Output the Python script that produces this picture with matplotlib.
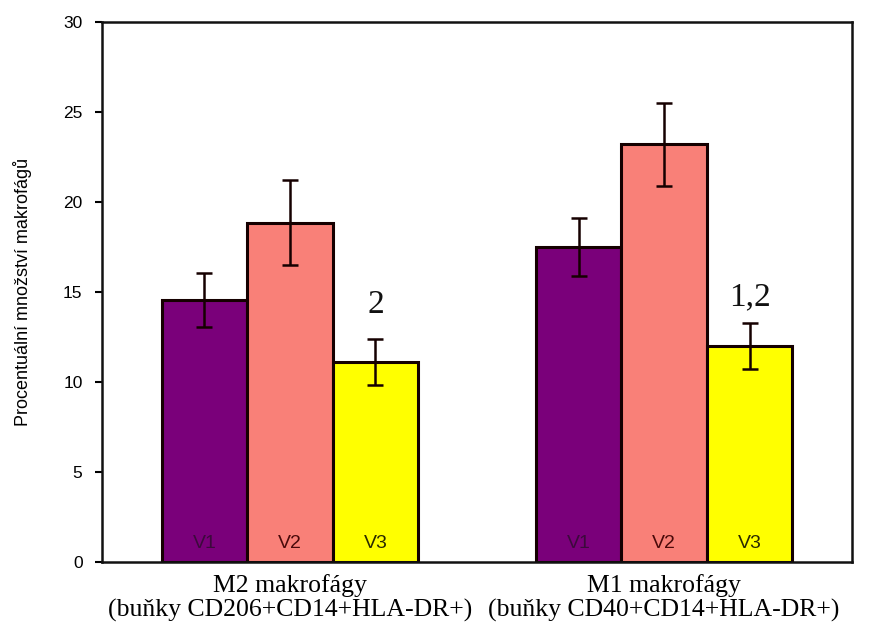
import numpy as np
import matplotlib
matplotlib.use('Agg')
import matplotlib.pyplot as plt

# data
groups = ['M2 makrofágy\n(buňky CD206+CD14+HLA-DR+)',
          'M1 makrofágy\n(buňky CD40+CD14+HLA-DR+)']
variants = ['V1', 'V2', 'V3']
v1_vals = [14.55, 17.5]
v2_vals = [18.85, 23.2]
v3_vals = [11.1, 12.0]
v1_err = [1.5, 1.6]
v2_err = [2.35, 2.3]
v3_err = [1.28, 1.26]
sig_labels = ['2', '1,2']
sig_y = [14.3, 14.7]

colors = ['#7a007a', '#f98078', '#ffff00']
text_colors = ['#3c0a3c', '#4a0a0a', '#2a2a00']

fig = plt.figure(figsize=(8.96, 6.42), dpi=100)
ax = fig.add_axes([0.1138, 0.1246, 0.8371, 0.8411])

group_x = np.array([1.0, 5.375])
width = 1.0
vals = [v1_vals, v2_vals, v3_vals]
errs = [v1_err, v2_err, v3_err]

for i in range(3):
    xs = group_x + (i - 1) * width
    ax.bar(xs, vals[i], width=width, color=colors[i], edgecolor='#150000',
           linewidth=2.2, zorder=2)
    ax.errorbar(xs, vals[i], yerr=errs[i], fmt='none', ecolor='#150000',
                elinewidth=1.8, capsize=6, capthick=1.8, zorder=3)
    for x in xs:
        ax.text(x, 1.05, variants[i], ha='center', va='center',
                fontsize=14, color=text_colors[i], family='Liberation Sans', zorder=4)

# significance marks above the V3 bars
for k in range(2):
    ax.text(group_x[k] + width, sig_y[k], sig_labels[k], ha='center', va='center',
            fontsize=24, family='Liberation Serif', color='#111111')

ax.set_ylim(0, 30)
ax.set_xlim(-1.199, 7.573)
ax.set_yticks([0, 5, 10, 15, 20, 25, 30])
ax.set_yticklabels([str(t) for t in [0, 5, 10, 15, 20, 25, 30]], family='Liberation Sans')
ax.set_xticks(group_x)
ax.set_xticklabels(groups, family='Liberation Serif', fontsize=18.5, linespacing=1.1)
ax.tick_params(axis='x', length=0, pad=9)
ax.tick_params(axis='y', length=5, width=1.5, labelsize=12.5, pad=9)
for s in ax.spines.values():
    s.set_linewidth(1.8)
    s.set_color('#111111')
ax.set_ylabel('Procentuální množství makrofágů', fontsize=13,
              family='Liberation Sans', labelpad=22)

plt.savefig('out.png', dpi=100)
